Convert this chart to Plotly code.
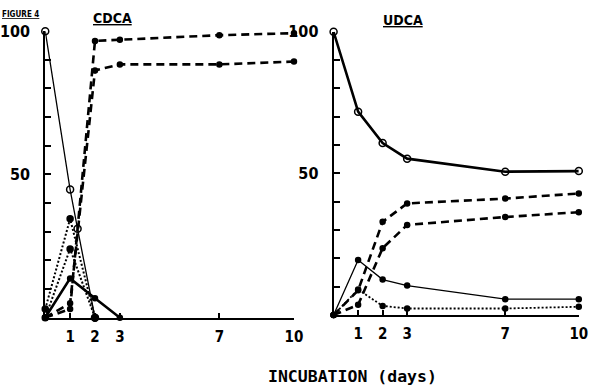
import plotly.graph_objects as go

# ---------------- data ----------------
days = [0, 1, 2, 3, 7, 10]
x_tickvals = [1, 2, 3, 7, 10]
x_ticktext = ["1", "2", "3", "7", "10"]
y_tickvals = [10, 20, 30, 40, 50, 60, 70, 80, 90, 100]
y_ticktext = ["", "", "", "", "50", "", "", "", "", "100"]

# CDCA panel
cdca_sub_days = [0, 1, 1.3, 2]
cdca_sub = [100, 44.7, 31, 0]
cdca_prod_a = [0, 3, 96.6, 97, 98.6, 99.3]
cdca_prod_b = [0, 5, 86.3, 88.4, 88.4, 89.4]
cdca_dot_days = [0, 1, 2]
cdca_dot_a = [3, 34.5, 0]
cdca_dot_b = [0, 24, 0]
cdca_solid_days = [0, 1, 2, 3]
cdca_solid = [0, 13.7, 6.8, 0]

# UDCA panel
udca_sub = [100, 71.8, 60.7, 55.2, 50.6, 50.8]
udca_prod_a = [0, 8.7, 32.9, 39.4, 41.1, 42.9]
udca_prod_b = [0, 3.6, 23.6, 31.8, 34.6, 36.3]
udca_solid = [0, 19.4, 12.5, 10.4, 5.6, 5.6]
udca_dot = [0, 9, 3.2, 2.3, 2.3, 2.9]

FONT = "DejaVu Sans Condensed, Liberation Sans Narrow, sans-serif"
MONO = "DejaVu Sans Mono, Liberation Mono, monospace"

fig = go.Figure()

def add(x, y, xa, ya, dash, width, marker_symbol, msize=6):
    fig.add_trace(go.Scatter(
        x=x, y=y, xaxis=xa, yaxis=ya, mode="lines+markers",
        line=dict(color="black", width=width, dash=dash),
        marker=dict(symbol=marker_symbol, size=msize, color="black",
                    line=dict(color="black", width=1.5)),
        showlegend=False, cliponaxis=False))

# left panel (CDCA)
add(cdca_sub_days, cdca_sub, "x", "y", "solid", 1.3, "circle-open", 7)
add(days, cdca_prod_a, "x", "y", "8px,5px", 2.6, "circle", 5)
add(days, cdca_prod_b, "x", "y", "8px,5px", 2.6, "circle", 5)
add(cdca_dot_days, cdca_dot_a, "x", "y", "2px,2px", 2, "circle", 6)
add(cdca_dot_days, cdca_dot_b, "x", "y", "2px,2px", 2, "circle", 6)
add(cdca_solid_days, cdca_solid, "x", "y", "solid", 2.6, "circle", 5)

# right panel (UDCA)
add(days, udca_sub, "x2", "y2", "solid", 2.6, "circle-open", 7)
add(days, udca_prod_a, "x2", "y2", "8px,5px", 2.6, "circle", 5)
add(days, udca_prod_b, "x2", "y2", "8px,5px", 2.6, "circle", 5)
add(days, udca_solid, "x2", "y2", "solid", 1.3, "circle", 5)
add(days, udca_dot, "x2", "y2", "2px,2px", 1.8, "circle", 5)

W, H = 593, 387

def xax(d0, d1, anchor):
    return dict(domain=[d0 / W, d1 / W], range=[0, 10], anchor=anchor,
                showgrid=False, zeroline=False, showline=True, linecolor="black",
                linewidth=2, ticks="inside", ticklen=5, tickwidth=1.5,
                tickcolor="black", tickvals=x_tickvals, ticktext=x_ticktext,
                tickfont=dict(family=FONT, size=15, color="black", weight="bold"),
                ticklabelstandoff=4)

def yax(top, bottom, anchor):
    return dict(domain=[(H - bottom) / H, (H - top) / H], range=[0, 100],
                anchor=anchor, showgrid=False, zeroline=False, showline=True,
                linecolor="black", linewidth=2, ticks="inside", ticklen=6,
                tickwidth=1.5, tickcolor="black", tickvals=y_tickvals,
                ticktext=y_ticktext,
                tickfont=dict(family=FONT, size=16, color="black", weight="bold"),
                ticklabelstandoff=10)

fig.update_layout(
    width=W, height=H, margin=dict(l=0, r=0, t=0, b=0),
    plot_bgcolor="white", paper_bgcolor="white",
    xaxis=xax(45, 298, "y"), yaxis=yax(22.7, 316, "x"),
    xaxis2=xax(338.3, 587.7, "y2"), yaxis2=yax(23.3, 313.3, "x2"),
    annotations=[
        dict(text="<b><u>CDCA</u></b>", x=113 / W, y=(H - 9) / H, xref="paper",
             yref="paper", xanchor="center", yanchor="middle", showarrow=False,
             font=dict(family=FONT, size=14, color="black")),
        dict(text="<b><u>UDCA</u></b>", x=404 / W, y=(H - 11) / H, xref="paper",
             yref="paper", xanchor="center", yanchor="middle", showarrow=False,
             xshift=5,
             font=dict(family=FONT, size=14, color="black")),
        dict(text="<b>INCUBATION (days)</b>", x=358 / W, y=(H - 376) / H,
             xref="paper", yref="paper", xanchor="center", yanchor="middle",
             showarrow=False,
             font=dict(family=MONO, size=16.5, color="black")),
        dict(text="<b><u>FIGURE 4</u></b>", x=0, y=1, xref="paper",
             yref="paper", xanchor="left", yanchor="top", showarrow=False,
             borderpad=0,
             font=dict(family=FONT, size=8, color="black")),
    ],
)

fig.write_html("out.html")
